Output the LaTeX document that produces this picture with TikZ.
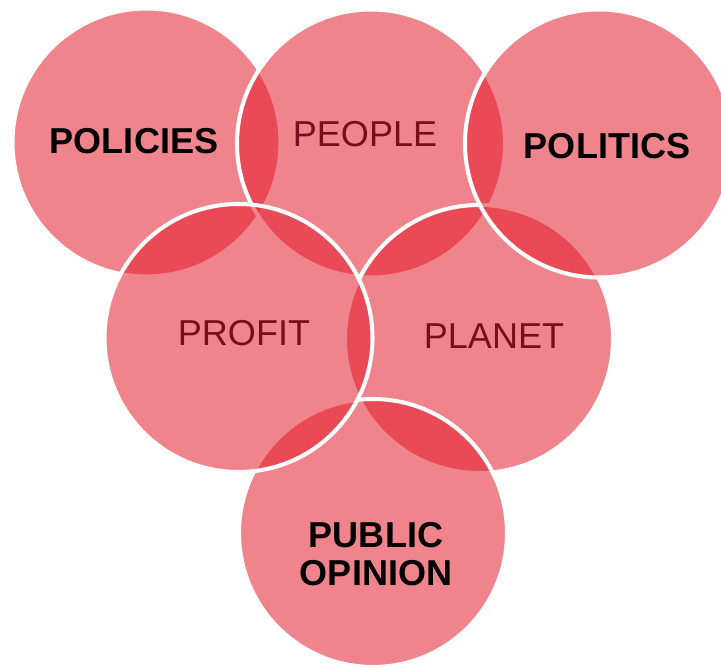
\documentclass[tikz,border=0pt]{standalone}
\usepackage{fontspec}
\setmainfont{Liberation Sans}
\definecolor{ringred}{RGB}{227,23,38}
\definecolor{wordred}{RGB}{122,12,28}
\tikzset{
  ring/.style={draw=white, line width=2.3pt, fill=ringred, fill opacity=0.53},
  boldword/.style={font=\bfseries\fontsize{20.5pt}{21.9pt}\selectfont, text=black, align=center},
  plainword/.style={font=\fontsize{20.5pt}{21.9pt}\selectfont, text=wordred}
}
\begin{document}
\begin{tikzpicture}[x=0.02cm, y=-0.02cm]
        \useasboundingbox (0, 0) rectangle (721, 668);
        \draw[ring] (146.5, 142.5) circle (134);
        \draw[ring] (371, 143.5) circle (134);
        \draw[ring] (479, 339) circle (134);
        \draw[ring] (599, 143.5) circle (134);
        \draw[ring] (373, 533) circle (134);
        \draw[ring] (238.5, 338) circle (134);
        \node (policies) at (134, 141)[boldword]{POLICIES};
        \node (people) at (365, 134)[plainword]{PEOPLE};
        \node (politics) at (607, 146.5)[boldword]{POLITICS};
        \node (profit) at (244, 333)[plainword]{PROFIT};
        \node (planet) at (494, 336)[plainword]{PLANET};
        \node (opinion) at (376, 554)[boldword]{PUBLIC\\OPINION};
\end{tikzpicture}
\end{document}
